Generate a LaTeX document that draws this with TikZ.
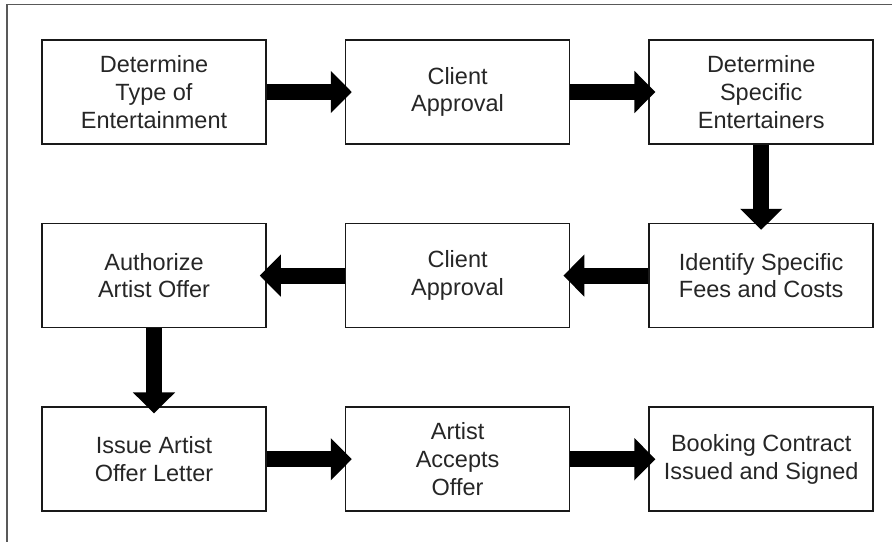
\documentclass[tikz,border=0pt]{standalone}
\usepackage{fontspec}
\setmainfont{Liberation Sans}
\usepackage{tikz}
\usetikzlibrary{arrows.meta,positioning}

\begin{document}
\begin{tikzpicture}[
  x=1pt, y=-1pt,
  node distance=78pt,
  stepbox/.style = {draw=black!90, line width=1.6pt,
    minimum width=224pt, minimum height=104pt,
    text=black!85, align=center,
    font=\fontsize{23.5}{27.7}\selectfont},
  bigarrow/.style = {line width=16pt,
    -{Triangle[length=21pt,width=41pt]}, shorten >=-7pt}]
  \useasboundingbox (0,0) rectangle (892,542);
  % frame
  \draw[black!65, line width=1.5pt] (892,4.5) -- (7,4.5) -- (7,542);
  % row 1
  \node[stepbox] (det) at (154,92) {Determine\\Type of\\Entertainment};
  \node[stepbox, right=of det] (appr1) {Client\\Approval};
  \node[stepbox, right=of appr1] (spec) {Determine\\Specific\\Entertainers};
  % row 2
  \node[stepbox, below=of spec] (fees) {Identify Specific\\Fees and Costs};
  \node[stepbox, left=of fees] (appr2) {Client\\Approval};
  \node[stepbox, left=of appr2] (auth) {Authorize\\Artist Offer};
  % row 3
  \node[stepbox, below=of auth] (letter) {Issue Artist\\Offer Letter};
  \node[stepbox, right=of letter] (accept) {Artist\\Accepts\\Offer};
  \node[stepbox, right=of accept] (contract) {Booking Contract\\Issued and Signed};
  % arrows
  \draw[bigarrow] (det) -- (appr1);
  \draw[bigarrow] (appr1) -- (spec);
  \draw[bigarrow] (spec) -- (fees);
  \draw[bigarrow] (fees) -- (appr2);
  \draw[bigarrow] (appr2) -- (auth);
  \draw[bigarrow] (auth) -- (letter);
  \draw[bigarrow] (letter) -- (accept);
  \draw[bigarrow] (accept) -- (contract);
\end{tikzpicture}
\end{document}
